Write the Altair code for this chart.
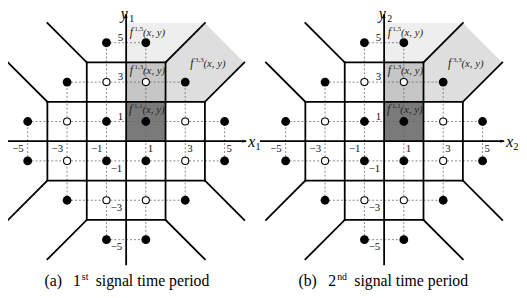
import altair as alt
import pandas as pd

# ---------------- data ----------------
# constellation points (1 = open circle, 0 = filled)
pt_x = [-1, 1, -3, -1, 1, 3, -5, -3, -1, 1, 3, 5, -5, -3, -1, 1, 3, 5, -3, -1, 1, 3, -1, 1]
pt_y = [5, 5, 3, 3, 3, 3, 1, 1, 1, 1, 1, 1, -1, -1, -1, -1, -1, -1, -3, -3, -3, -3, -5, -5]
pt_open = [0, 0, 0, 1, 1, 0, 0, 1, 0, 0, 1, 0, 0, 1, 0, 0, 1, 0, 0, 1, 1, 0, 0, 0]

# dashed guide lines through the points
row_y = [5, 3, 1, -1, -3, -5]
row_x0 = [-1, -3, -5, -5, -3, -1]
row_x1 = [1, 3, 5, 5, 3, 1]
col_x = [-5, -3, -1, 1, 3, 5]
col_y0 = [-1, -3, -5, -5, -3, -1]
col_y1 = [1, 3, 5, 5, 3, 1]

# decision-region boundaries (segments)
seg_x = [-2, -4, -4, -2, -4, -2, 2, 4, -4, -2, 2, 4, -4, -2, 2, 4]
seg_y = [4, 2, -2, -4, -2, -4, -4, -2, 2, 4, 4, 2, -2, -4, -4, -2]
seg_x2 = [2, 4, 4, 2, -4, -2, 2, 4, -6, -4, 4, 6, -6, -4, 4, 6]
seg_y2 = [4, 2, -2, -4, 2, 4, 4, 2, 4, 6, 6, 4, -4, -6, -6, -4]

# axes
x_axis_from, x_axis_to = -6.3, 6.1
y_axis_from, y_axis_to = -6.3, 6.45

xtick_vals = [-5, -3, -1, 1, 3, 5]
xtick_text = ["\u22125", "\u22123", "\u22121", "1", "3", "5"]
ytick_vals = [5, 3, 1, -1, -3, -5]
ytick_text = ["5", "3", "1", "\u22121", "\u22123", "\u22125"]

# shaded regions
box_x = [0, 0]
box_x2 = [2, 2]
box_y = [0, 2]
box_y2 = [2, 4]
box_fill = ["#7a7a7a", "#c6c6c6"]
dot_reg_x = [0, 2, 4]
dot_reg_lo = [4, 4, 6]
dot_reg_hi = [6, 6, 6]
hatch_x = [2, 4, 6]
hatch_lo = [2, 2, 4]
hatch_hi = [4, 6, 4]

# region labels f^{i,j}(x, y)
f_sup = ["1,5", "1,3", "1,1", "3,3"]
f_x = [0.18, 0.18, 0.15, 3.25]
f_y = [5.33, 3.42, 1.45, 3.78]

SERIF = "Times New Roman, Liberation Serif, serif"
W, H = 519, 290
UNIT = 20.0
Y0 = 133   # pixel row of y = 0
X0A = 120  # pixel column of panel (a) origin
X0B = 382  # pixel column of panel (b) origin
sc_x = alt.Scale(domain=[-X0A / UNIT, (W - X0A) / UNIT], nice=False, zero=False)
sc_y = alt.Scale(domain=[-(H - Y0) / UNIT, Y0 / UNIT], nice=False, zero=False)


def X(f="px"):
    return alt.X(f"{f}:Q", scale=sc_x, axis=None)


def Y(f="y"):
    return alt.Y(f"{f}:Q", scale=sc_y, axis=None)


def panel(idx, off, cap_label, cap_num, cap_sup, cap_off):
    def C(df, two=False):
        c = alt.Chart(df).transform_calculate(px=f"datum.x + {off}")
        if two:
            c = c.transform_calculate(px2=f"datum.x2 + {off}")
        return c

    layers = []
    boxes = pd.DataFrame({"x": box_x, "x2": box_x2, "y": box_y, "y2": box_y2, "c": box_fill})
    layers.append(C(boxes, True).mark_rect(strokeWidth=0).encode(
        x=X(), x2="px2:Q", y=Y(), y2="y2:Q", color=alt.Color("c:N", scale=None)))
    dreg = pd.DataFrame({"x": dot_reg_x, "y": dot_reg_lo, "y2": dot_reg_hi})
    layers.append(C(dreg).mark_area(color="#eeeeee", orient="vertical", opacity=1).encode(
        x=X(), y=Y(), y2="y2:Q"))
    hreg = pd.DataFrame({"x": hatch_x, "y": hatch_lo, "y2": hatch_hi})
    layers.append(C(hreg).mark_area(color="#dedede", orient="vertical", opacity=1).encode(
        x=X(), y=Y(), y2="y2:Q"))

    rows = pd.DataFrame({"x": row_x0, "x2": row_x1, "y": row_y})
    cols = pd.DataFrame({"x": col_x, "y": col_y0, "y2": col_y1})
    layers.append(C(rows, True).mark_rule(color="#6a6a6a", strokeWidth=0.8, strokeDash=[2, 2]).encode(
        x=X(), x2="px2:Q", y=Y()))
    layers.append(C(cols).mark_rule(color="#6a6a6a", strokeWidth=0.8, strokeDash=[2, 2]).encode(
        x=X(), y=Y(), y2="y2:Q"))

    segs = pd.DataFrame({"x": seg_x, "y": seg_y, "x2": seg_x2, "y2": seg_y2})
    layers.append(C(segs, True).mark_rule(color="black", strokeWidth=1.8, strokeCap="square").encode(
        x=X(), y=Y(), x2="px2:Q", y2="y2:Q"))

    xa = pd.DataFrame({"x": [x_axis_from], "x2": [x_axis_to], "y": [0]})
    ya = pd.DataFrame({"x": [0], "y": [y_axis_from], "y2": [y_axis_to]})
    layers.append(C(xa, True).mark_rule(color="black", strokeWidth=1.8).encode(x=X(), x2="px2:Q", y=Y()))
    layers.append(C(ya).mark_rule(color="black", strokeWidth=1.8).encode(x=X(), y=Y(), y2="y2:Q"))
    xtip = pd.DataFrame({"x": [x_axis_to], "y": [0]})
    ytip = pd.DataFrame({"x": [0], "y": [y_axis_to]})
    layers.append(C(xtip).mark_point(shape="M0,0L-2,-0.75L-2,0.75Z", size=16, filled=True,
                                     color="black", opacity=1).encode(x=X(), y=Y()))
    layers.append(C(ytip).mark_point(shape="M0,0L-0.75,2L0.75,2Z", size=16, filled=True,
                                     color="black", opacity=1).encode(x=X(), y=Y()))

    pts = pd.DataFrame({"x": pt_x, "y": pt_y, "o": pt_open})
    layers.append(C(pts).transform_filter("datum.o == 0").mark_circle(
        size=80, color="black", opacity=1).encode(x=X(), y=Y()))
    layers.append(C(pts).transform_filter("datum.o == 1").mark_circle(
        size=52, fill="white", stroke="black", strokeWidth=1.1, opacity=1).encode(x=X(), y=Y()))

    xt = pd.DataFrame({"x": xtick_vals, "t": xtick_text, "y": [0] * len(xtick_vals)})
    yt = pd.DataFrame({"y": ytick_vals, "t": ytick_text, "x": [0] * len(ytick_vals)})
    tk = dict(font=SERIF, fontSize=11, color="#111", baseline="alphabetic")
    layers.append(C(xt).transform_filter("datum.x < 0").mark_text(align="right", dx=-4, dy=11, **tk)
                  .encode(x=X(), y=Y(), text="t:N"))
    layers.append(C(xt).transform_filter("datum.x > 0").mark_text(align="left", dx=2, dy=11, **tk)
                  .encode(x=X(), y=Y(), text="t:N"))
    layers.append(C(yt).transform_filter("datum.y > 0").mark_text(align="right", dx=-3, dy=-2, **tk)
                  .encode(x=X(), y=Y(), text="t:N"))
    layers.append(C(yt).transform_filter("datum.y < 0").mark_text(align="right", dx=-4, dy=11, **tk)
                  .encode(x=X(), y=Y(), text="t:N"))

    xl = pd.DataFrame({"x": [6.2], "y": [-0.27], "t": ["x"], "s": [str(idx)]})
    yl = pd.DataFrame({"x": [-0.27], "y": [6.22], "t": ["y"], "s": [str(idx)]})
    for d in (xl, yl):
        layers.append(C(d).mark_text(font=SERIF, fontStyle="italic", fontSize=16, align="left",
                                     baseline="alphabetic", color="black")
                      .encode(x=X(), y=Y(), text="t:N"))
    layers.append(C(xl).mark_text(font=SERIF, fontSize=10, align="left", baseline="alphabetic",
                                  dx=7.5, dy=3.5, color="black").encode(x=X(), y=Y(), text="s:N"))
    layers.append(C(yl).mark_text(font=SERIF, fontSize=10, align="left", baseline="alphabetic",
                                  dx=8.5, dy=3.5, color="black").encode(x=X(), y=Y(), text="s:N"))

    fl = pd.DataFrame({"x": f_x, "y": f_y, "s": f_sup, "f": ["f"] * 4, "p": ["(x, y)"] * 4})
    lc = "#262626"
    layers.append(C(fl).mark_text(font=SERIF, fontStyle="italic", fontSize=12, align="left",
                                  baseline="alphabetic", color=lc).encode(x=X(), y=Y(), text="f:N"))
    layers.append(C(fl).mark_text(font=SERIF, fontSize=7, align="left", baseline="alphabetic",
                                  dx=5, dy=-5, color=lc).encode(x=X(), y=Y(), text="s:N"))
    layers.append(C(fl).mark_text(font=SERIF, fontStyle="italic", fontSize=11, align="left",
                                  baseline="alphabetic", dx=13.5, color=lc).encode(x=X(), y=Y(), text="p:N"))

    cap = pd.DataFrame({"x": [0], "a": [cap_label], "n": [cap_num], "s": [cap_sup], "r": ["signal time period"]})
    ck = dict(font=SERIF, fontSize=16, baseline="alphabetic", color="black")
    layers.append(C(cap).mark_text(align="left", dx=cap_off[0], **ck)
                  .encode(x=X(), y=alt.value(280.5), text="a:N"))
    layers.append(C(cap).mark_text(align="right", dx=cap_off[1], **ck)
                  .encode(x=X(), y=alt.value(280.5), text="n:N"))
    layers.append(C(cap).mark_text(align="left", dx=cap_off[2], font=SERIF, fontSize=10,
                                   baseline="alphabetic", color="black")
                  .encode(x=X(), y=alt.value(273.5), text="s:N"))
    layers.append(C(cap).mark_text(align="left", dx=cap_off[3], **ck)
                  .encode(x=X(), y=alt.value(280.5), text="r:N"))
    return layers


layers_a = panel(1, 0, "(a)", "1", "st", [-83, -46, -45, -31])
layers_b = panel(2, (X0B - X0A) / UNIT, "(b)", "2", "nd", [-87, -48.7, -47.7, -30.3])

chart = alt.layer(*(layers_a + layers_b)).properties(
    width=W, height=H, padding=0, autosize=alt.AutoSizeParams(type="none")
).configure_view(stroke=None)

chart.save("out.html", embed_options={"renderer": "svg", "actions": False})
